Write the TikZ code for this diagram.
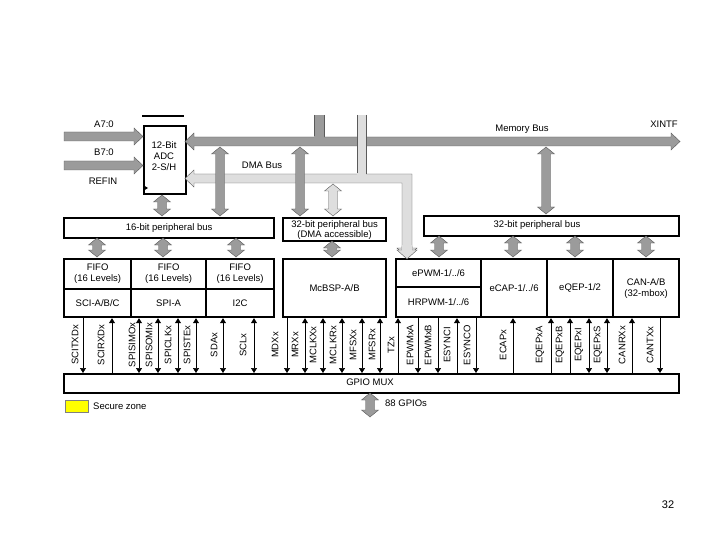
\documentclass[tikz,border=0pt]{standalone}
\usepackage{fontspec}
\setmainfont{Liberation Sans}
\usetikzlibrary{arrows.meta}
\definecolor{busdark}{RGB}{155,155,155}
\definecolor{buslight}{RGB}{222,222,222}
\definecolor{busedge}{RGB}{90,90,90}
\definecolor{secure}{RGB}{255,255,0}
\tikzset{
  box/.style={draw=black, line width=2.2pt, fill=white, inner sep=0pt, anchor=north west, align=center, font=\fontsize{9.5}{11}\selectfont},
  txt/.style={inner sep=0pt, font=\fontsize{9.5}{11}\selectfont, align=center},
  sigline/.style={line width=0.6pt, >={Triangle[width=6pt,length=5pt]}},
  sig/.style={inner sep=0pt, rotate=90, font=\fontsize{9.5}{10}\selectfont},
  fat/.style={fill=#1, draw=busedge, line width=0.4pt, line join=miter},
}
\newcommand\vdbl[4]{%
  \filldraw[fat=#4] (#1-4.5,#2+7) -- (#1-8.5,#2+7) -- (#1,#2) -- (#1+8.5,#2+7) -- (#1+4.5,#2+7)
    -- (#1+4.5,#3-7) -- (#1+8.5,#3-7) -- (#1,#3) -- (#1-8.5,#3-7) -- (#1-4.5,#3-7) -- cycle;}
\begin{document}
\begin{tikzpicture}[x=1pt,y=-1pt]
\useasboundingbox (0,0) rectangle (720,540);
\fill[white] (0,0) rectangle (720,540);

% ---------- ADC ----------
\node[box, minimum width=42pt, minimum height=68pt] (adc) at (143,125) {};
\node[txt] (adctxt) at (164,156) {12-Bit\\ADC\\2-S/H};
\draw[line width=2pt] (142,116) -- (184,116);
\fill (143,185) -- (148,188) -- (143,191) -- cycle;

% input arrows
\filldraw[fat=busdark] (64,132) -- (134,132) -- (134,128) -- (143,136.5) -- (134,145) -- (134,141) -- (64,141) -- cycle;
\filldraw[fat=busdark] (64,161) -- (134,161) -- (134,157) -- (143,165.5) -- (134,174) -- (134,170) -- (64,170) -- cycle;
\node[txt] (la) at (104,124) {A7:0};
\node[txt] (lb) at (104,152) {B7:0};
\node[txt] (lr) at (103,181) {REFIN};

% ---------- DMA bus (light) ----------
\filldraw[fat=buslight] (185,178.5) -- (194,170) -- (194,174) -- (412,174) -- (412,248) -- (417,248)
  -- (407,258) -- (397,248) -- (402,248) -- (402,183) -- (194,183) -- (194,187) -- cycle;
\node[txt] (ldma) at (262,165) {DMA Bus};

% ---------- Memory bus (dark) ----------
\fill[busdark] (314,115) rectangle (324,140);
\draw[busedge, line width=0.4pt] (314,115) -- (314,137) (324,115) -- (324,137);
\filldraw[fat=busdark] (185,141.5) -- (194,133) -- (194,137) -- (671,137) -- (671,133) -- (680,141.5)
  -- (671,150) -- (671,146) -- (194,146) -- (194,150) -- cycle;
\fill[busdark] (314.2,136) rectangle (323.8,138);
\fill[buslight] (357,115) rectangle (366,175);
\draw[busedge, line width=0.4pt] (357,115) -- (357,174) (366,115) -- (366,174);
\fill[buslight] (357.2,173) rectangle (365.8,175);
\node[txt] (lmem) at (522,129) {Memory Bus};
\node[txt] (lxintf) at (664,124) {XINTF};

% ---------- peripheral buses ----------
\node[box, minimum width=210pt, minimum height=20pt] (bus16) at (63,217) {};
\node[txt] at (bus16.center) {16-bit peripheral bus};
\node[box, minimum width=103pt, minimum height=23pt] (bus32dma) at (282,217) {};
\node[txt, font=\fontsize{9.5}{10}\selectfont] at (bus32dma.center) {32-bit peripheral bus\\(DMA accessible)};
\node[box, minimum width=255pt, minimum height=20pt] (bus32) at (423,215) {};
\node[txt] at (537,225) {32-bit peripheral bus};

% vertical bus arrows
\vdbl{162}{195}{216}{busdark}
\vdbl{220}{147}{216}{busdark}
\vdbl{300}{147}{216}{busdark}
\vdbl{546}{147}{214}{busdark}
\vdbl{333}{184}{216}{buslight}

\vdbl{97}{238}{257}{busdark}
\vdbl{163}{238}{257}{busdark}
\vdbl{236}{238}{257}{busdark}
\vdbl{332}{241}{257}{busdark}
\vdbl{439}{236}{257}{busdark}
\vdbl{513}{236}{257}{busdark}
\vdbl{575}{236}{257}{busdark}
\vdbl{646}{236}{257}{busdark}

% ---------- peripherals ----------
\node[box, minimum width=67pt, minimum height=30pt] (fifo1) at (63,258) {FIFO\\(16 Levels)};
\node[box, minimum width=67pt, minimum height=28pt] (sci) at (63,288) {SCI-A/B/C};
\node[box, minimum width=75pt, minimum height=30pt] (fifo2) at (130,258) {FIFO\\(16 Levels)};
\node[box, minimum width=75pt, minimum height=28pt] (spi) at (130,288) {SPI-A};
\node[box, minimum width=68pt, minimum height=30pt] (fifo3) at (205,258) {FIFO\\(16 Levels)};
\node[box, minimum width=68pt, minimum height=28pt] (i2c) at (205,288) {I2C};
\node[box, minimum width=103pt, minimum height=58pt] (mcbsp) at (282,258) {McBSP-A/B};
\node[box, minimum width=85pt, minimum height=28pt] (epwm) at (395,258) {ePWM-1/../6};
\node[box, minimum width=85pt, minimum height=30pt] (hrpwm) at (395,286) {HRPWM-1/../6};
\node[box, minimum width=66pt, minimum height=58pt] (ecap) at (480,258) {eCAP-1/../6};
\node[box, minimum width=66pt, minimum height=58pt] (eqep) at (546,258) {eQEP-1/2};
\node[box, minimum width=66pt, minimum height=58pt] (can) at (612,258) {CAN-A/B\\(32-mbox)};

% DMA arrow head drawn over ePWM border
\filldraw[fat=buslight] (402,250) -- (397,250) -- (407,259) -- (417,250) -- (412,250) -- (412,246) -- (402,246) -- cycle;
\fill[buslight] (402.2,245) rectangle (411.8,250.5);

% ---------- GPIO MUX ----------
\node[box, minimum width=615pt, minimum height=19pt] (gpio) at (63,373) {};
\node[txt] at (370,382) {GPIO MUX};

% ---------- signals ----------
\foreach \x/\lx/\a/\t in {
  83/75/->/SCITXDx, 112/101/<-/SCIRXDx, 139/132/<->/SPISIMOx, 158/149/<->/SPISOMIx,
  178/168/<->/SPICLKx, 196/187/<->/SPISTEx, 223/214/<->/SDAx, 254/243/<->/SCLx,
  287/275/->/MDXx, 305/295/<->/MRXx, 323/313/<->/MCLKXx, 342/333/<->/MCLKRx,
  362/353/<->/MFSXx, 380/372/<->/MFSRx, 398/391/<-/TZx, 418/410/->/EPWMxA,
  438/428/->/EPWMxB, 457/447/<-/ESYNCI, 476/467/->/ESYNCO, 513/503/<-/ECAPx,
  551/540/<-/EQEPxA, 570/560/<-/EQEPxB, 589/579/<->/EQEPxI, 607/598/<->/EQEPxS,
  632/622/<-/CANRXx, 660/650/->/CANTXx} {
  \draw[sigline,\a] (\x,0 |- sci.south) -- (\x,0 |- gpio.north);
  \node[sig] at (\lx,345) {\t};
}

% ---------- legend / GPIOs ----------
\vdbl{370}{393}{417}{busdark}
\node[txt, anchor=west] (gpios) at (385,403) {88 GPIOs};
\filldraw[fill=secure, draw=gray, line width=0.5pt] (65,400) rectangle (88,412);
\node[txt, anchor=west] (sz) at (93,406) {Secure zone};
\node[txt, font=\fontsize{11}{12}\selectfont] (pg) at (668,505) {32};
\end{tikzpicture}
\end{document}
